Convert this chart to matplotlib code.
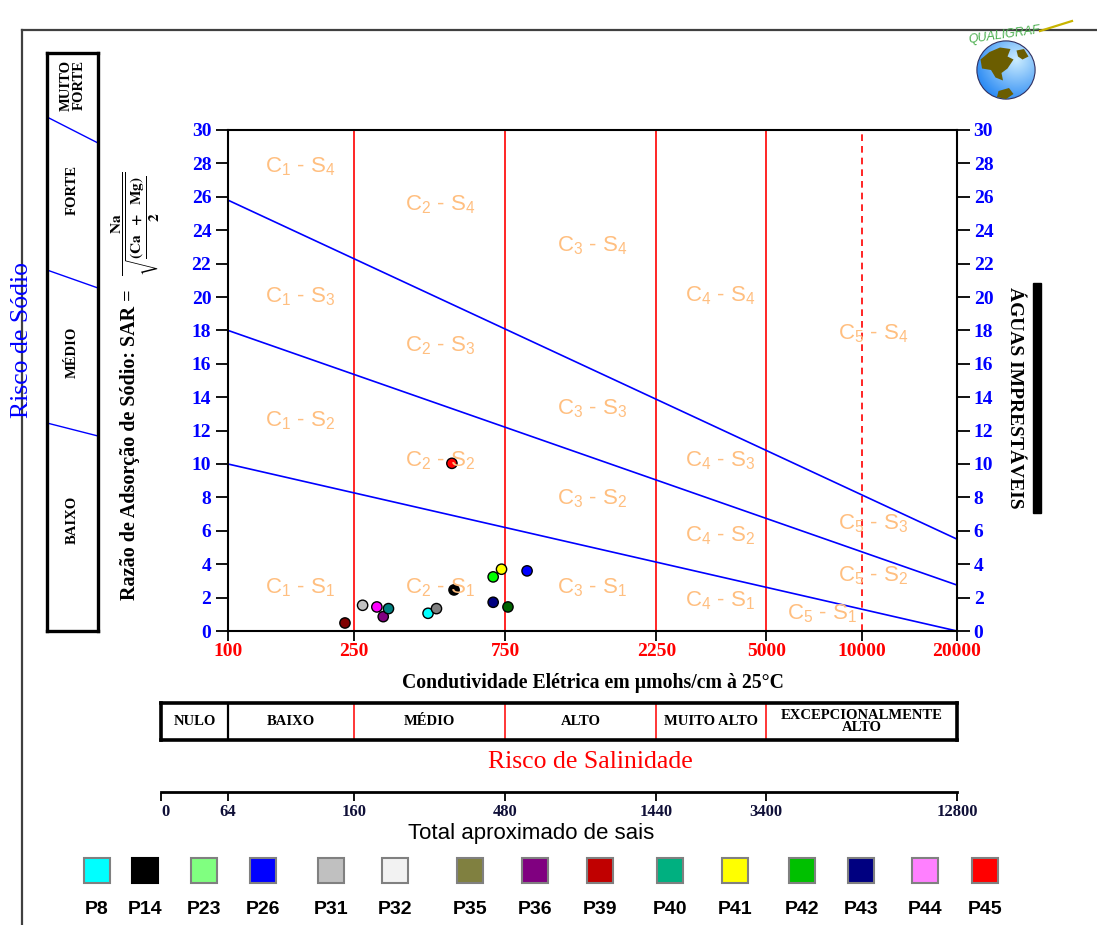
import numpy as np
import matplotlib.pyplot as plt
from matplotlib.patches import Rectangle, Circle, Polygon
from matplotlib.lines import Line2D
from matplotlib.ticker import NullLocator

plt.rcParams['font.family'] = ['Liberation Serif', 'DejaVu Sans']

# amostras: condutividade elétrica (µmhos/cm) e RAS
amostras = ['P39', 'P31', 'P44', 'P36', 'P40', 'P8', 'P32', 'P45', 'P14',
            'P43', 'P42', 'P41', 'P35', 'P26']
ce = [234, 266, 295, 309, 321, 428, 455, 509, 517, 687, 687, 730, 765, 879]
ras = [0.48, 1.54, 1.44, 0.86, 1.34, 1.06, 1.34, 10.04, 2.46,
       1.72, 3.24, 3.70, 1.44, 3.60]
cores_pontos = ['#800000', '#c0c0c0', '#ff00ff', '#800080', '#008080', '#00ffff',
                '#808080', '#ff0000', '#000000', '#000080', '#00ff00', '#ffff00',
                '#006400', '#0000ff']

legenda_nomes = ['P8', 'P14', 'P23', 'P26', 'P31', 'P32', 'P35', 'P36', 'P39',
                 'P40', 'P41', 'P42', 'P43', 'P44', 'P45']
legenda_cores = ['#00ffff', '#000000', '#80ff80', '#0000ff', '#c0c0c0', '#f2f2f2',
                 '#808040', '#800080', '#c00000', '#00b080', '#ffff00', '#00c000',
                 '#000080', '#ff80ff', '#ff0000']

# limites das classes de sódio: RAS em CE = 100 e em CE = 20000
ce_extremos = [100, 20000]
limites_s_inicio = [10.0, 18.0, 25.8]
limites_s_fim = [0.0, 2.75, 5.5]

ce_ticks = [100, 250, 750, 2250, 5000, 10000, 20000]
ce_limites = [250, 750, 2250, 5000]
ce_limite_tracejado = 10000
ras_ticks = list(range(0, 31, 2))

# rótulos das zonas (CE, RAS, classe C, classe S)
zonas_ce = [131, 362, 1093, 2771, 8423,
            131, 362, 1093, 2771, 8423,
            131, 362, 1093, 2771, 8423,
            131, 362, 1093, 2771, 5813]
zonas_ras = [27.8, 25.5, 23.1, 20.1, 17.8,
             20.0, 17.1, 13.3, 10.2, 6.4,
             12.6, 10.2, 7.9, 5.7, 3.3,
             2.6, 2.6, 2.6, 1.8, 1.06]
zonas_c = ['1', '2', '3', '4', '5'] * 4
zonas_s = ['4'] * 5 + ['3'] * 5 + ['2'] * 5 + ['1'] * 5

classes_salinidade = ['NULO', 'BAIXO', 'MÉDIO', 'ALTO', 'MUITO ALTO',
                      'EXCEPCIONALMENTE\nALTO']
ce_classes = [61.4, 100, 250, 750, 2250, 5000, 20000]
sais_rotulos = ['0', '64', '160', '480', '1440', '3400', '12800']

classes_sodio = ['BAIXO', 'MÉDIO', 'FORTE', 'MUITO\nFORTE']

W, H = 1097, 925
fig = plt.figure(figsize=(W / 100, H / 100), dpi=100)


def caixa(x0, y0, x1, y1):
    return [x0 / W, 1 - y1 / H, (x1 - x0) / W, (y1 - y0) / H]


def fx(px):
    return px / W


def fy(py):
    return 1 - py / H


# moldura
fig.add_artist(Line2D([fx(22), fx(22)], [fy(30), 0], color='#404040', lw=1.6))
fig.add_artist(Line2D([fx(22), 1], [fy(30), fy(30)], color='#404040', lw=1.6))

# diagrama principal
ax = fig.add_axes(caixa(228, 130, 957, 631))
ax.set_xscale('log')
ax.set_xlim(100, 20000)
ax.set_ylim(0, 30)
ax.set_xticks(ce_ticks)
ax.set_xticklabels([str(v) for v in ce_ticks])
ax.xaxis.set_minor_locator(NullLocator())
ax.set_yticks(ras_ticks)
for s in ax.spines.values():
    s.set_linewidth(1.5)
ax.tick_params(axis='x', direction='out', length=7, width=1.3, pad=2,
               labelcolor='#ff0000', labelsize=14)
ax.tick_params(axis='y', direction='out', length=9, width=1.3, pad=3,
               left=True, right=True, labelleft=True, labelright=True,
               labelcolor='#0000ff', labelsize=14)
for lab in ax.get_xticklabels():
    lab.set_fontweight('bold')
for t in ax.yaxis.get_major_ticks():
    t.label1.set_fontweight('bold')
    t.label2.set_fontweight('bold')

for v in ce_limites:
    ax.axvline(v, color='#ff0000', lw=1.2, zorder=1)
ax.axvline(ce_limite_tracejado, color='#ff0000', lw=1.2, ls=(0, (4, 3)), zorder=1)

for a, b in zip(limites_s_inicio, limites_s_fim):
    ax.plot(ce_extremos, [a, b], color='#0000ff', lw=1.2, zorder=2)

ax.scatter(ce, ras, s=55, c=cores_pontos, edgecolors='black', linewidths=1, zorder=4)

laranja = '#ffbf80'
for x, y, c, s in zip(zonas_ce, zonas_ras, zonas_c, zonas_s):
    ax.annotate(r'C$_\mathregular{%s}$ - S$_\mathregular{%s}$' % (c, s), (x, y),
                xytext=(0, 0), textcoords='offset pixels',
                color=laranja, fontsize=16, family='Liberation Sans',
                ha='left', va='center', zorder=5)

ax.set_xlabel('Condutividade Elétrica em µmohs/cm à 25°C', fontsize=14.2,
              fontweight='bold', labelpad=9)

fig.text(fx(130), fy(445), 'Razão de Adsorção de Sódio: SAR =', rotation=90,
         fontsize=14.5, fontweight='bold', ha='center', va='center')
fig.text(fx(136), fy(224),
         r'$\dfrac{\mathbf{Na}}{\sqrt{\dfrac{\mathbf{(Ca\ \ +\ \ Mg)}}{\mathbf{2}}}}$',
         rotation=90, fontsize=11, math_fontfamily='stix', ha='center', va='center')

# escala de risco de sódio
ax_s = fig.add_axes(caixa(47, 53, 98, 631))
ax_s.set_xlim(0, 1)
ax_s.set_ylim(0, 1)
ax_s.set_xticks([])
ax_s.set_yticks([])
for s in ax_s.spines.values():
    s.set_linewidth(2.4)
div_esq = [1 - (423 - 53) / 578, 1 - (270 - 53) / 578, 1 - (117 - 53) / 578]
div_dir = [1 - (436 - 53) / 578, 1 - (288 - 53) / 578, 1 - (143 - 53) / 578]
for a, b in zip(div_esq, div_dir):
    ax_s.plot([0, 1], [a, b], color='#0000ff', lw=1)
for nome, py in zip(classes_sodio, [520, 352, 190, 85]):
    ax_s.text(0.5, 1 - (py - 53) / 578, nome, rotation=90, ha='center', va='center',
              fontsize=10.5, fontweight='bold', linespacing=1.0)
fig.text(fx(22), fy(340), 'Risco de Sódio', rotation=90, color='#0000ff',
         fontsize=18.5, ha='center', va='center')

# águas imprestáveis
fig.text(fx(1015), fy(398), 'ÁGUAS IMPRESTÁVEIS', rotation=-90, fontsize=14,
         fontweight='bold', ha='center', va='center')
fig.add_artist(Rectangle((fx(1033), fy(513)), fx(8), (513 - 283) / H,
                         color='black', transform=fig.transFigure))

# escala de risco de salinidade
ax_c = fig.add_axes(caixa(161, 703, 957, 740))
ax_c.set_xscale('log')
ax_c.set_xlim(ce_classes[0], ce_classes[-1])
ax_c.set_ylim(0, 1)
ax_c.set_xticks([])
ax_c.set_yticks([])
ax_c.xaxis.set_minor_locator(NullLocator())
for s in ax_c.spines.values():
    s.set_linewidth(2.6)
for i, v in enumerate(ce_classes[1:-1]):
    ax_c.axvline(v, color='black' if i == 0 else '#ff0000', lw=1.6 if i == 0 else 1.1)
for nome, a, b in zip(classes_salinidade, ce_classes[:-1], ce_classes[1:]):
    ax_c.text(np.sqrt(a * b), 0.5, nome, ha='center', va='center', fontsize=10.5,
              fontweight='bold', linespacing=0.9)
fig.text(fx(590), fy(762), 'Risco de Salinidade', color='#ff0000', fontsize=18.5,
         ha='center', va='center')

# total aproximado de sais
ax_t = fig.add_axes(caixa(161, 792, 957, 793))
ax_t.set_xscale('log')
ax_t.set_xlim(ce_classes[0], ce_classes[-1])
ax_t.set_yticks([])
for lado in ['left', 'right', 'bottom']:
    ax_t.spines[lado].set_visible(False)
ax_t.spines['top'].set_linewidth(2)
ax_t.xaxis.set_minor_locator(NullLocator())
ax_t.set_xticks(ce_classes)
ax_t.set_xticklabels(sais_rotulos)
ax_t.tick_params(axis='x', direction='out', length=6, width=1.3, pad=2,
                 labelsize=12, labelcolor='#101038')
for lab in ax_t.get_xticklabels():
    lab.set_fontweight('bold')
ax_t.get_xticklabels()[0].set_ha('left')
fig.text(fx(531), fy(833), 'Total aproximado de sais', fontsize=16,
         family='Liberation Sans', ha='center', va='center')

# legenda das amostras
legenda_x = [97, 145, 204, 263, 331, 395, 470, 535, 600, 670, 735, 802, 861, 925, 985]
for nome, cor, px in zip(legenda_nomes, legenda_cores, legenda_x):
    fig.add_artist(Rectangle((fx(px - 13), fy(883)), 26 / W, 25 / H, facecolor=cor,
                             edgecolor='#808080' if cor != '#000000' else 'black',
                             lw=1.5, transform=fig.transFigure))
    fig.text(fx(px), fy(910), nome, fontsize=14, fontweight='bold',
             family='Liberation Sans', ha='center', va='center')

# logotipo
ax_l = fig.add_axes(caixa(976, 40, 1036, 100))
ax_l.set_xlim(-1, 1)
ax_l.set_ylim(-1, 1)
ax_l.axis('off')
gx, gy = np.meshgrid(np.linspace(-1, 1, 200), np.linspace(-1, 1, 200))
dist = np.hypot(gx - 0.35, gy - 0.35)
grad = np.clip(dist / 1.6, 0, 1)
cores_grad = np.array([[0.80, 0.93, 1.0], [0.10, 0.50, 0.95]])
img = cores_grad[0] * (1 - grad[..., None]) + cores_grad[1] * grad[..., None]
globo = Circle((0, 0), 0.97, facecolor='none', edgecolor='#303060', lw=0.8)
ax_l.add_patch(globo)
im = ax_l.imshow(img, extent=[-1, 1, -1, 1], origin='lower')
im.set_clip_path(globo)
terra = [
    [(-0.85, 0.35), (-0.55, 0.6), (-0.2, 0.75), (0.15, 0.7), (0.05, 0.45), (0.25, 0.35),
     (0.05, 0.05), (-0.15, -0.1), (-0.1, -0.35), (-0.35, -0.25), (-0.5, 0.0), (-0.8, 0.05)],
    [(0.35, 0.65), (0.6, 0.7), (0.75, 0.45), (0.55, 0.35), (0.4, 0.45)],
    [(-0.25, -0.7), (0.1, -0.6), (0.25, -0.8), (0.0, -0.97), (-0.3, -0.9)],
]
for pts in terra:
    p = Polygon(pts, closed=True, facecolor='#6b5d00', edgecolor='none')
    ax_l.add_patch(p)
    p.set_clip_path(globo)
fig.text(fx(1004), fy(35), 'QUALIGRAF', color='#4caf50', fontsize=9, style='italic',
         family='Liberation Sans', rotation=8, ha='center', va='center')
fig.add_artist(Line2D([fx(1040), fx(1072)], [fy(31), fy(21)], color='#c8b400', lw=1.6))

fig.savefig('out.png', dpi=100)
